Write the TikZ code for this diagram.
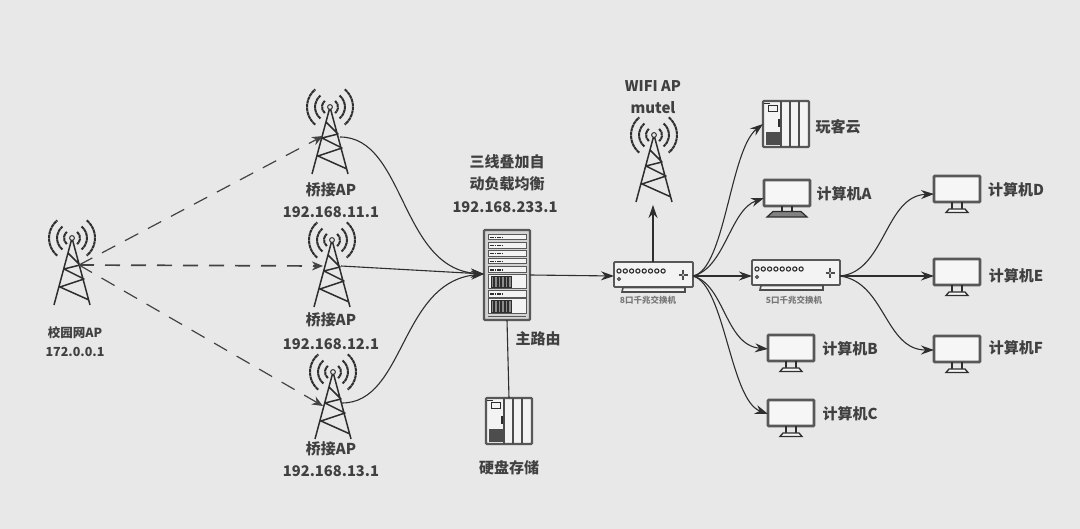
\documentclass[tikz,border=0pt]{standalone}
\usepackage{fontspec}
\setmainfont{Noto Sans CJK SC}
\usetikzlibrary{arrows.meta}
\definecolor{bgc}{HTML}{E8E8E8}
\definecolor{ink}{HTML}{2E2E2E}
\definecolor{txt}{HTML}{404040}
\tikzset{
  anchorbox/.style={inner sep=0pt,outer sep=0pt,anchor=north west},
  devthick/.style={draw=ink!80,line width=2.2pt,rounded corners=1pt},
  link/.style={draw=ink,line width=1.1pt},
  arrowlink/.style={link,-{Stealth[length=13pt,width=9pt]}},
  wifilink/.style={draw=ink!90,line width=1.2pt,dash pattern=on 15pt off 11pt,-{Stealth[length=11pt,width=9pt]}},
  lbl/.style={text=txt,font=\bfseries\fontsize{15}{16}\selectfont,inner sep=0pt},
  lblb/.style={text=txt,font=\bfseries\fontsize{14.7}{16}\selectfont,inner sep=0pt},
  lbls/.style={text=txt,font=\bfseries\fontsize{12.5}{13}\selectfont,inner sep=0pt},
  lblt/.style={text=ink!65,font=\bfseries\fontsize{8.5}{9}\selectfont,inner sep=0pt},
  tower/.pic={
    \node[anchorbox,minimum width=36pt,minimum height=68pt] (-b) at (-18,0) {};
    \draw[ink,line width=1.5pt,line join=round]
      (-18,67) -- (0,0) -- (18,67)
      (-4,15) -- (8,27) -- (-8,31) -- (12,41) -- (-12,49) -- (17,62);
    \fill[bgc,draw=ink,line width=1pt] (0,0) circle (2.4);
    \foreach \r in {8,15,23} {
      \draw[ink,line width=2pt,dash pattern=on 3.4pt off .5pt] (-50:\r) arc[start angle=-50,end angle=50,radius=\r];
      \draw[ink,line width=2pt,dash pattern=on 3.4pt off .5pt] (130:\r) arc[start angle=130,end angle=230,radius=\r];
    }
  },
  rackbox/.pic={
    \node[anchorbox,minimum width=46pt,minimum height=90pt] (-b) at (0,0) {};
    \draw[devthick,fill=bgc!80!gray] (0,0) rectangle (46,90);
    \foreach \a/\h in {5/5,13/5.5,21/5.5,29/5,37/6} {
      \draw[ink!80,line width=1pt,fill=bgc!50!white] (4,\a) rectangle (42,\a+\h);
      \draw[ink,line width=1.4pt,dash pattern=on 1.6pt off .7pt] (6,\a+\h/2) -- (19,\a+\h/2);
    }
    \draw[ink!80,line width=1pt,fill=bgc!50!white] (4,45) rectangle (42,58.5);
    \draw[ink!80,line width=1pt,fill=bgc!50!white] (4,61) rectangle (42,67.5);
    \draw[ink,line width=1.4pt,dash pattern=on 1.6pt off .7pt] (6,64.2) -- (19,64.2);
    \draw[ink!80,line width=1pt,fill=bgc!50!white] (4,69) rectangle (42,84);
    \draw[ink!80,line width=1pt] (4,86.5) -- (42,86.5);
    \foreach \x in {7,10.5,14,17.5,21,24.5} {
      \fill[ink!55] (\x,46.5) rectangle (\x+2.6,57);
      \draw[ink,line width=.6pt] (\x,46.5) rectangle (\x+2.6,57);
      \fill[ink!55] (\x,70.5) rectangle (\x+2.6,82);
      \draw[ink,line width=.6pt] (\x,70.5) rectangle (\x+2.6,82);
    }
  },
  storebox/.pic={
    \node[anchorbox,minimum width=46pt,minimum height=46pt] (-b) at (0,0) {};
    \draw[devthick,fill=bgc!50!white] (0,0) rectangle (46,46);
    \draw[ink!85,line width=1.1pt] (18,0) -- (18,46) (27,0) -- (27,46) (36,0) -- (36,46);
    \draw[ink,line width=1pt] (5,5) rectangle (14,11);
    \draw[ink,line width=1.2pt] (1,2.5) -- (7,2.5);
    \draw[ink,line width=1.6pt] (16,18) -- (16,26);
    \fill[ink!85] (3,31) rectangle (17,44);
  },
  switchbox/.pic={
    \node[anchorbox,minimum width=\pgfkeysvalueof{/tikz/swwidth},minimum height=30pt] (-b) at (0,0) {};
    \draw[devthick,line width=1.8pt,fill=bgc!50!white] (0,0) rectangle (\pgfkeysvalueof{/tikz/swwidth},25);
    \draw[ink!85,line width=1.6pt,fill=bgc!50!white] (8,30) -- (9,25.5) -- (71,25.5) -- (71,30) -- cycle;
    \foreach \i in {0,...,7} \draw[ink,line width=1.1pt] (5+\i*6.3,9) circle (2.1);
    \draw[ink,line width=.9pt] (5,17) circle (1.5);
    \begin{scope}[shift={(\pgfkeysvalueof{/tikz/swwidth}-10,13)}]
      \draw[ink!85,line width=2.6pt] (-4.5,0) -- (4.5,0) (0,-5) -- (0,5);
      \fill[bgc] (0,0) circle (1);
    \end{scope}
  },
  swwidth/.initial=79pt,
  screen/.pic={
    \node[anchorbox,minimum width=46pt,minimum height=37pt] (-b) at (0,0) {};
    \draw[ink!80,line width=2.6pt,fill=bgc!40!white,rounded corners=.8pt] (0,0) rectangle (46,26);
    \draw[ink,line width=1.1pt] (18,26) -- (18,33) (28,26) -- (28,33);
    \draw[ink,line width=1.3pt,fill=bgc!40!white] (15,33) -- (31,33) -- (34,36.5) -- (12,36.5) -- cycle;
  },
  screenk/.pic={
    \node[anchorbox,minimum width=46pt,minimum height=37pt] (-b) at (0,0) {};
    \draw[ink!80,line width=2.6pt,fill=bgc!40!white,rounded corners=.8pt] (0,0) rectangle (46,26);
    \draw[ink,line width=1.1pt] (18,26) -- (18,31) (28,26) -- (28,31);
    \draw[ink,line width=1.2pt,fill=ink!60] (9,31.5) -- (37,31.5) -- (43,37) -- (3,37) -- cycle;
  }
}
\begin{document}
\begin{tikzpicture}[x=1pt,y=-1pt]
\useasboundingbox (0,0) rectangle (1080,529);
\fill[bgc] (0,0) rectangle (1080,529);

% towers
\pic (t0) at (72,238) {tower};
\pic (t1) at (330,107) {tower};
\pic (t2) at (332,240) {tower};
\pic (t3) at (333,372) {tower};
\pic (tw) at (654,135) {tower};
% devices
\pic (rk) at (484,230) {rackbox};
\pic (hd) at (486,398) {storebox};
\pic (wk) at (763,101) {storebox};
\pic (s8) at (614,262) {switchbox};
\begin{scope}[swwidth=88pt]
\pic (s5) at (752,260) {switchbox};
\end{scope}
\pic (pa) at (764,180) {screenk};
\pic (pb) at (768,335) {screen};
\pic (pc) at (768,400) {screen};
\pic (pd) at (934,176) {screen};
\pic (pe) at (934,259) {screen};
\pic (pf) at (934,336) {screen};

% named ends on the towers
\coordinate (t0o) at (79,265);
\coordinate (t1i) at (323,136);
\coordinate (t2i) at (323,266);
\coordinate (t3i) at (323,406);
\coordinate (t1o) at (340,137);
\coordinate (t2o) at (341,266);
\coordinate (t3o) at (342,403);
\coordinate (rki) at (484,274);
\coordinate (rko) at (530,275);
\coordinate (s8i) at (614,276);
\coordinate (s8o) at (693,276);
\coordinate (s5i) at (752,276);
\coordinate (s5o) at (840,276);
\coordinate (s8t) at (653,262);
\coordinate (twb) at (653,205);
\coordinate (pai) at (764,198);
\coordinate (pbi) at (768,349);
\coordinate (pci) at (768,414);
\coordinate (pdi) at (934,194);
\coordinate (pei) at (934,276);
\coordinate (pfi) at (934,350);

% wireless
\draw[wifilink] (t0o) -- (t1i);
\draw[wifilink,line width=1.7pt] (t0o) -- (t2i);
\draw[wifilink] (t0o) -- (t3i);

% wired
\draw[arrowlink] (t1o) .. controls (405,137) and (400,268) .. (rki);
\draw[arrowlink] (t2o) -- (rki);
\draw[arrowlink] (t3o) .. controls (405,403) and (400,282) .. (rki);
\draw[arrowlink] (rko) -- (s8i);
\draw[link] (rk-b.south) -- (hd-b.north);
\draw[arrowlink] (s8t) -- (twb);
\draw[arrowlink] (s8o) .. controls (725,270) and (730,150) .. (wk-b.west);
\draw[arrowlink] (s8o) .. controls (725,268) and (730,210) .. (pai);
\draw[arrowlink] (s8o) -- (s5i);
\draw[arrowlink] (s8o) .. controls (725,285) and (725,345) .. (pbi);
\draw[arrowlink] (s8o) .. controls (725,285) and (730,400) .. (pci);
\draw[arrowlink] (s5o) .. controls (885,272) and (885,196) .. (pdi);
\draw[arrowlink] (s5o) -- (pei);
\draw[arrowlink] (s5o) .. controls (885,282) and (885,350) .. (pfi);

% labels
\node[lbl] (l1) at (331,190) {桥接AP};
\node[lblb] (l1b) at (331,212) {192.168.11.1};
\node[lbl] (l2) at (331,320) {桥接AP};
\node[lblb] (l2b) at (331,344) {192.168.12.1};
\node[lbl] (l3) at (331,449) {桥接AP};
\node[lblb] (l3b) at (331,471) {192.168.13.1};
\node[lbls] (l0) at (75,333) {校园网AP};
\node[lbls] (l0b) at (75,352) {172.0.0.1};
\node[lbl] (lr1) at (507,162) {三线叠加自};
\node[lbl] (lr2) at (507,184) {动负载均衡};
\node[lblb] (lr3) at (505,207) {192.168.233.1};
\node[lblb] (lw1) at (653,86) {WIFI AP};
\node[lbl] (lw2) at (653,108) {mutel};
\node[lbl] (lm) at (538,339) {主路由};
\node[lbl] (lh) at (509,468) {硬盘存储};
\node[lbl] (lk) at (838,127) {玩客云};
\node[lbl] (la) at (844,194) {计算机A};
\node[lbl] (ld) at (1016,190) {计算机D};
\node[lbl] (le) at (1016,276) {计算机E};
\node[lbl] (lf) at (1016,348) {计算机F};
\node[lbl] (lb) at (850,349) {计算机B};
\node[lbl] (lc) at (850,414) {计算机C};
\node[lblt] (ls8) at (648,300) {8口千兆交换机};
\node[lblt] (ls5) at (794,300) {5口千兆交换机};
\end{tikzpicture}
\end{document}
